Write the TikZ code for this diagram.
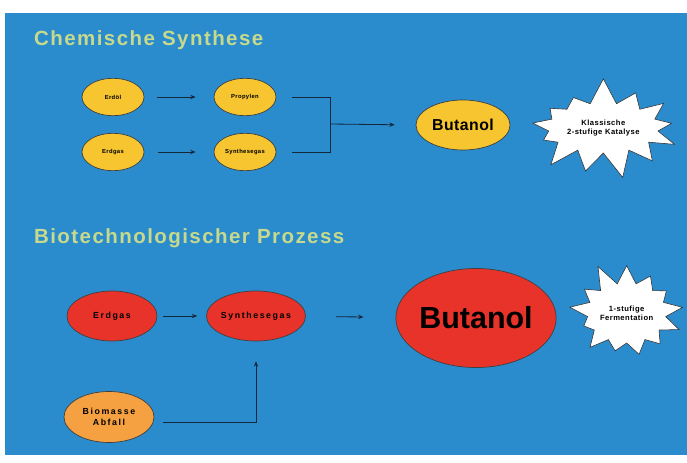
\documentclass[tikz,border=0pt]{standalone}
\usepackage{fontspec}
\setmainfont{Liberation Sans}
\usetikzlibrary{shapes.geometric, shapes.symbols, arrows.meta}

\definecolor{bgblue}{HTML}{2A8CCD}
\definecolor{oilyellow}{HTML}{F6C530}
\definecolor{bioredfill}{HTML}{E8332B}
\definecolor{wasteorange}{HTML}{F5A041}
\definecolor{titlegreen}{HTML}{C7D98C}
\definecolor{linenavy}{HTML}{14283C}

\begin{document}
\begin{tikzpicture}[
    node distance=2cm,
    blob/.style={ellipse, draw=black!75, line width=0.6pt, inner sep=0pt, align=center, font=\fontsize{5}{6}\selectfont\bfseries\addfontfeature{LetterSpace=6}},
    bigblob/.style={blob, font=\fontsize{7.5}{9.5}\selectfont\bfseries\addfontfeature{LetterSpace=18}},
    burst/.style={starburst, draw=black!80, fill=white, line width=0.5pt, starburst points=13, starburst point height=0.8cm, inner sep=1pt, align=center, font=\fontsize{6.5}{7.5}\selectfont\bfseries\addfontfeature{LetterSpace=6}},
    heading/.style={anchor=west, text=titlegreen, font=\fontsize{17.5}{20}\selectfont\bfseries\addfontfeature{LetterSpace=7}},
    arrow/.style={-{Stealth[length=1.6mm, width=1.3mm]}, draw=linenavy, line width=0.7pt},
    line/.style={draw=linenavy, line width=0.7pt}
]
    \useasboundingbox (0,0) rectangle (20.61,-13.89);
    \fill[bgblue] (0.15,-0.39) rectangle (20.61,-13.65);
    % Titles
    \node[heading] (t1) at (0.9,-1.2) {Chemische Synthese};
    \node[heading] (t2) at (0.9,-7.14) {Biotechnologischer Prozess};
    % Chemical route
    \node[blob, fill=oilyellow, minimum width=1.86cm, minimum height=1.12cm] (erdoel) at (3.39,-2.91) {Erdöl};
    \node[blob, fill=oilyellow, minimum width=1.86cm, minimum height=1.12cm, below of=erdoel, node distance=1.65cm] (erdgas) {Erdgas};
    \node[blob, fill=oilyellow, minimum width=1.86cm, minimum height=1.12cm, right of=erdoel, node distance=3.96cm] (propylen) {Propylen};
    \node[blob, fill=oilyellow, minimum width=1.86cm, minimum height=1.12cm, right of=erdgas, node distance=3.96cm] (synth) {Synthesegas};
    \node[blob, fill=oilyellow, minimum width=2.82cm, minimum height=1.5cm, font=\fontsize{13.5}{15}\selectfont\bfseries\addfontfeature{LetterSpace=3}] (butanol) at (13.89,-3.75) {Butanol};
    \node[burst, minimum width=4.9cm, minimum height=3.1cm, random starburst=7] (kat) at (18.1,-3.84) {Klassische\\2-stufige Katalyse};
    \coordinate (join) at (9.9,-3.72);
    % Biotech route
    \node[bigblob, fill=bioredfill, minimum width=2.7cm, minimum height=1.5cm] (erdgasb) at (3.36,-9.48) {Erdgas};
    \node[bigblob, fill=bioredfill, minimum width=2.94cm, minimum height=1.5cm, right of=erdgasb, node distance=4.32cm] (synthb) {Synthesegas};
    \node[bigblob, fill=wasteorange, minimum width=2.7cm, minimum height=1.53cm] (biomasse) at (3.27,-12.51) {Biomasse\\Abfall};
    \node[blob, fill=bioredfill, minimum width=4.74cm, minimum height=2.97cm, font=\fontsize{26}{30}\selectfont\bfseries] (butanolb) at (14.28,-9.54) {Butanol};
    \node[burst, minimum width=3.7cm, minimum height=3.2cm, starburst point height=0.7cm, random starburst=11] (ferm) at (18.8,-9.39) {1-stufige\\Fermentation};
    % Arrows
    \draw[arrow, shorten <=3.9mm, shorten >=5.4mm] (erdoel) -- (propylen);
    \draw[arrow, shorten <=4.2mm, shorten >=5.4mm] (erdgas) -- (synth);
    \draw[line] ([xshift=4.8mm]propylen.east) -| (join);
    \draw[line] ([xshift=4.8mm]synth.east) -| (join);
    \draw[arrow, shorten >=6.3mm] (join) -- (butanol.west);
    \draw[arrow, shorten <=1.8mm, shorten >=2.7mm] (erdgasb) -- (synthb);
    \draw[arrow, shorten <=9mm, shorten >=9.6mm] (synthb) -- (butanolb);
    \draw[arrow, shorten <=2.7mm, shorten >=6mm] ([yshift=-1.5mm]biomasse.east) -| (synthb.south);
\end{tikzpicture}
\end{document}
